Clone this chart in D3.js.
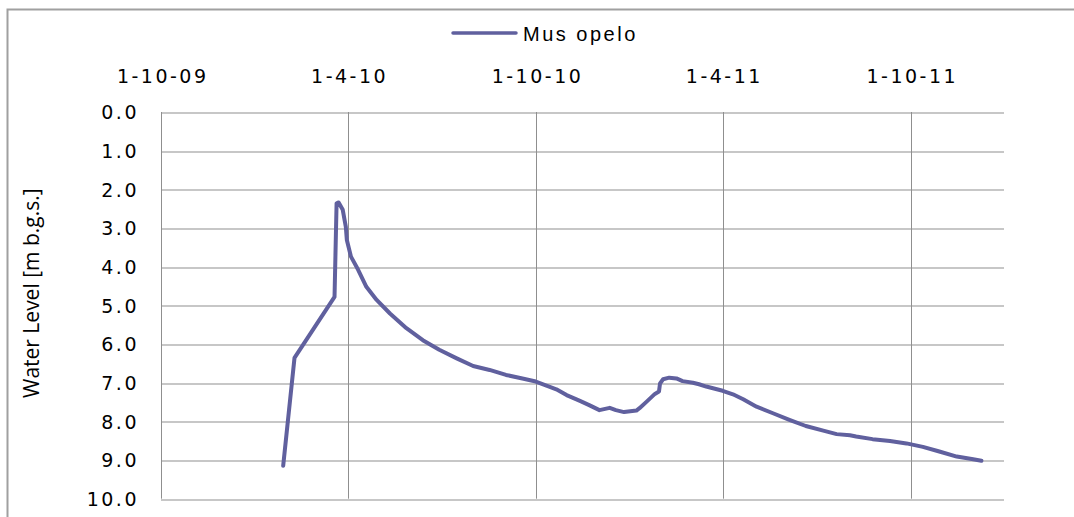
<!DOCTYPE html>
<html>
<head>
<meta charset="utf-8">
<script src="https://cdn.jsdelivr.net/npm/d3@7"></script>
<style>
    html, body { margin: 0; padding: 0; background: #fff; overflow: hidden; }
    .tick-label { font-family: "DejaVu Sans", Verdana, sans-serif; font-size: 19px; letter-spacing: 2.5px; fill: #000; }
    .legend-label { font-family: "Liberation Sans", Arial, sans-serif; font-size: 20px; letter-spacing: 2.5px; fill: #000; }
    .axis-title { font-family: "Open Sans", "Segoe UI", sans-serif; font-size: 21px; fill: #000; }
</style>
</head>
<body>
<svg id="chart" width="1074" height="517"></svg>
<script>
// Water level readings (m below ground surface)
var series_name = 'Mus opelo';
var obs_dates = [
    '2010-01-28', '2010-02-08', '2010-03-19', '2010-03-21', '2010-03-23', '2010-03-27',
    '2010-03-30', '2010-03-31', '2010-04-04', '2010-04-11', '2010-04-19', '2010-04-29',
    '2010-05-12', '2010-05-28', '2010-06-13', '2010-06-29', '2010-07-16', '2010-08-01',
    '2010-08-17', '2010-09-02', '2010-09-18', '2010-10-01', '2010-10-14', '2010-10-21',
    '2010-10-31', '2010-11-13', '2010-11-22', '2010-12-02', '2010-12-12', '2010-12-18',
    '2010-12-26', '2011-01-07', '2011-01-10', '2011-01-17', '2011-01-25', '2011-01-29',
    '2011-01-30', '2011-02-02', '2011-02-08', '2011-02-15', '2011-02-21', '2011-03-03',
    '2011-03-09', '2011-03-16', '2011-04-01', '2011-04-11', '2011-04-21', '2011-05-04',
    '2011-05-20', '2011-06-05', '2011-06-21', '2011-07-08', '2011-07-21', '2011-08-03',
    '2011-08-09', '2011-08-25', '2011-09-11', '2011-09-27', '2011-10-13', '2011-10-29',
    '2011-11-15', '2011-12-01', '2011-12-09'
];
var water_levels = [
    9.15, 6.36, 4.78, 2.36, 2.34, 2.53,
    2.97, 3.31, 3.74, 4.08, 4.52, 4.86,
    5.21, 5.59, 5.90, 6.15, 6.37, 6.57,
    6.67, 6.80, 6.89, 6.97, 7.10, 7.17,
    7.32, 7.47, 7.58, 7.71, 7.65, 7.71,
    7.76, 7.72, 7.66, 7.49, 7.29, 7.23,
    7.02, 6.91, 6.87, 6.89, 6.96, 7.00,
    7.04, 7.10, 7.21, 7.30, 7.43, 7.62,
    7.79, 7.96, 8.12, 8.24, 8.33, 8.36,
    8.39, 8.46, 8.51, 8.57, 8.66, 8.78,
    8.91, 8.98, 9.02
];
var x_tick_dates = ['2009-10-01', '2010-04-01', '2010-10-01', '2011-04-01', '2011-10-01'];
var x_tick_labels = ['1-10-09', '1-4-10', '1-10-10', '1-4-11', '1-10-11'];
var x_range_dates = ['2009-10-01', '2011-12-31'];
var y_ticks = [0, 1, 2, 3, 4, 5, 6, 7, 8, 9, 10];

var parse_date = d3.utcParse('%Y-%m-%d');
var data = obs_dates.map(function (d, i) {
    return {date: parse_date(d), level: water_levels[i]};
});

var margin = {top: 112, left: 161, right: 70, bottom: 18.3};
var width = 1074 - margin.left - margin.right;
var height = 517 - margin.top - margin.bottom;
var line_color = '#60609e';
var grid_color = '#8f8f8f';

var svg = d3.select('#chart');

// outer chart frame
svg.append('rect')
    .attr('x', 7.5).attr('y', 9.5)
    .attr('width', 1200).attr('height', 600)
    .attr('fill', 'none')
    .attr('stroke', '#a0a0a0')
    .attr('stroke-width', 2);

var g = svg.append('g')
    .attr('transform', 'translate(' + margin.left + ',' + margin.top + ')');

var scale_x = d3.scaleUtc()
    .domain(x_range_dates.map(parse_date))
    .range([0, width]);
var scale_y = d3.scaleLinear()
    .domain([0, 10])
    .range([0, height]);

// horizontal grid
var y_axis = d3.axisLeft(scale_y)
    .tickValues(y_ticks)
    .tickSize(-width)
    .tickPadding(22)
    .tickFormat(d3.format('.1f'));
var y_container = g.append('g')
    .attr('class', 'axis axis--y')
    .call(y_axis);
y_container.select('.domain').remove();
y_container.selectAll('line')
    .attr('stroke', grid_color)
    .attr('transform', function (d) { return 'translate(0,' + (Math.round(scale_y(d)) + 0.5 - scale_y(d)) + ')'; });
y_container.selectAll('text')
    .attr('class', 'tick-label')
    .attr('dy', '0.36em')
    .style('font', null);

// vertical grid + top labels
var x_axis = d3.axisTop(scale_x)
    .tickValues(x_tick_dates.map(parse_date))
    .tickSize(0)
    .tickPadding(29)
    .tickFormat(function (d, i) { return x_tick_labels[i]; });
var x_container = g.append('g')
    .attr('class', 'axis axis--x')
    .call(x_axis);
x_container.select('.domain').remove();
x_container.selectAll('text')
    .attr('class', 'tick-label')
    .attr('dx', '1.2px')
    .style('font', null);

g.append('g')
    .attr('class', 'v-grid')
    .selectAll('line')
    .data(x_tick_dates.map(parse_date))
    .enter().append('line')
    .attr('x1', function (d) { return Math.round(scale_x(d)) + 0.5; })
    .attr('x2', function (d) { return Math.round(scale_x(d)) + 0.5; })
    .attr('y1', 0)
    .attr('y2', height)
    .attr('stroke', grid_color);

// series
var line = d3.line()
    .x(function (d) { return scale_x(d.date); })
    .y(function (d) { return scale_y(d.level); });

g.append('path')
    .datum(data)
    .attr('d', line)
    .attr('fill', 'none')
    .attr('stroke', line_color)
    .attr('stroke-width', 4)
    .attr('stroke-linejoin', 'round')
    .attr('stroke-linecap', 'round');

// legend
var legend = svg.append('g').attr('class', 'legend');
legend.append('line')
    .attr('x1', 453).attr('x2', 516)
    .attr('y1', 33).attr('y2', 33)
    .attr('stroke', line_color)
    .attr('stroke-width', 3.5)
    .attr('stroke-linecap', 'round');
legend.append('text')
    .attr('class', 'legend-label')
    .attr('x', 523)
    .attr('y', 41)
    .text(series_name);

// y axis title
svg.append('text')
    .attr('class', 'axis-title')
    .attr('transform', 'translate(39,398) rotate(-90)')
    .attr('text-anchor', 'start')
    .text('Water Level [m b.g.s.]');
</script>
</body>
</html>
